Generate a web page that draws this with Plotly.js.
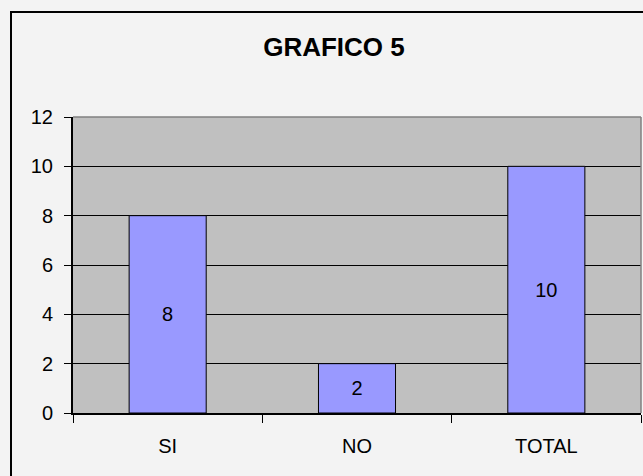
<!DOCTYPE html>
<html>
<head>
<meta charset="utf-8">
<script src="https://cdn.plot.ly/plotly-3.0.1.min.js"></script>
<style>html,body{margin:0;padding:0;background:#F3F3F3;}#chart{width:643px;height:476px;}</style>
</head>
<body>
<div id="chart"></div>
<script>
const categories = ["SI", "NO", "TOTAL"];
const values = [8, 2, 10];
const yTicks = [0, 2, 4, 6, 8, 10, 12];

const W = 643, H = 476;
const m = {l: 73, r: 2, t: 117, b: 63};
const pw = W - m.l - m.r, ph = H - m.t - m.b;
const px = x => (x - m.l) / pw;
const py = y => 1 - (y - m.t) / ph;

const FONT = 'Liberation Sans, Arial, sans-serif';

const trace = {
  type: 'bar',
  x: categories,
  y: values,
  text: values.map(String),
  textposition: 'inside',
  insidetextanchor: 'middle',
  textangle: 0,
  textfont: {family: FONT, size: 20, color: '#000'},
  marker: {color: '#9999FF', line: {color: '#000', width: 1}},
  hoverinfo: 'none'
};

const layout = {
  width: W, height: H,
  margin: m,
  paper_bgcolor: '#F3F3F3',
  plot_bgcolor: '#C0C0C0',
  showlegend: false,
  bargap: 0.593,
  font: {family: FONT, size: 20, color: '#000'},
  title: {
    text: '<b>GRAFICO 5</b>',
    font: {family: FONT, size: 26, color: '#000'},
    x: 334 / W, xref: 'container', xanchor: 'center',
    y: 1 - 47 / H, yref: 'container', yanchor: 'middle'
  },
  xaxis: {
    type: 'category',
    range: [-0.5, 2.5],
    showgrid: false,
    showline: true, linecolor: '#000', linewidth: 2,
    ticks: 'outside', tickson: 'boundaries', ticklen: 8, tickcolor: '#000', tickwidth: 1,
    ticklabelstandoff: 14,
    zeroline: false
  },
  yaxis: {
    range: [0, 12],
    tickvals: yTicks,
    ticktext: yTicks.map(String),
    showgrid: true, gridcolor: '#000', gridwidth: 1,
    showline: true, linecolor: '#000', linewidth: 2,
    ticks: 'outside', ticklen: 7, tickcolor: '#000', tickwidth: 1,
    ticklabelstandoff: 7,
    zeroline: false
  },
  shapes: [
    {type: 'line', xref: 'paper', yref: 'paper', x0: 0, x1: 1, y0: 1, y1: 1, line: {color: '#808080', width: 1.5}, layer: 'above'},
    {type: 'line', xref: 'paper', yref: 'paper', x0: 1, x1: 1, y0: 0, y1: 1, line: {color: '#808080', width: 1.5}, layer: 'above'},
    {type: 'rect', xref: 'paper', yref: 'paper', x0: px(11), x1: px(660), y0: py(12), y1: py(490), line: {color: '#000', width: 2}, fillcolor: 'rgba(0,0,0,0)', layer: 'above'}
  ]
};

Plotly.newPlot('chart', [trace], layout, {displayModeBar: false, staticPlot: true});
</script>
</body>
</html>
